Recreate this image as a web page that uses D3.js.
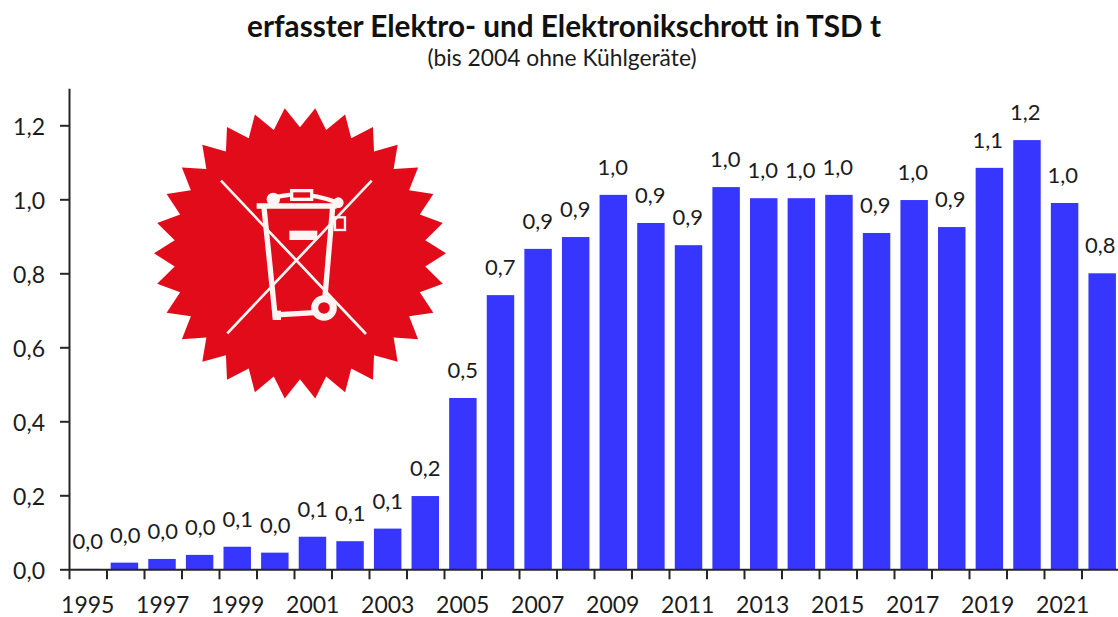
<!doctype html>
<html>
  <head>
    <meta charset="utf-8">
    <script src="https://cdnjs.cloudflare.com/ajax/libs/d3/7.8.5/d3.min.js"></script>
    <style>
      html, body { margin: 0; background: #fff; }
      svg { display: block; }
      text { font-family: Lato, "Open Sans", sans-serif; fill: #1c1c1c; }
      .axis path, .axis line { stroke: #262626; stroke-width: 2px; }
      .axis text { font-size: 23px; }
      .label { font-size: 22px; text-anchor: middle; dominant-baseline: central; }
    </style>
  </head>
  <body>
    <svg id="chart" width="1118" height="617"></svg>
    <script>
      var titleText = "erfasster Elektro- und Elektronikschrott in TSD t";
      var subtitleText = "(bis 2004 ohne Kühlgeräte)";

      var years = [1995, 1996, 1997, 1998, 1999, 2000, 2001, 2002, 2003, 2004, 2005, 2006, 2007, 2008,
                   2009, 2010, 2011, 2012, 2013, 2014, 2015, 2016, 2017, 2018, 2019, 2020, 2021, 2022];
      var values = [0.001, 0.018, 0.028, 0.039, 0.061, 0.045, 0.088, 0.076, 0.11, 0.198, 0.463, 0.741, 0.866, 0.898,
                    1.012, 0.936, 0.876, 1.033, 1.003, 1.003, 1.012, 0.909, 0.998, 0.925, 1.085, 1.16, 0.99, 0.80];
      var yTicks = [0, 0.2, 0.4, 0.6, 0.8, 1.0, 1.2];
      var xLabelYears = years.filter(d => d % 2 == 1);

      var svg = d3.select("#chart");
      var comma = d3.formatLocale({ decimal: ",", thousands: ".", grouping: [3], currency: ["", "€"] }).format(".1f");

      var yScale = d3.scaleLinear().domain([0, 1.3]).range([569.3, 88.3]);
      // ticks sit between the years, so the axis and the bars use slightly different bands like the original
      var xTicks = d3.scaleLinear().domain([1995, 2023]).range([69, 1119]);
      var xBand = d3.scaleBand().domain(years).range([69, 1119]);
      var xBars = d3.scaleBand().domain(years).range([68, 1121]).paddingInner(0.27).paddingOuter(0.135);

      svg.append("text").attr("x", 564).attr("y", 37).attr("text-anchor", "middle")
        .style("font-size", "29.7px").style("font-weight", 700).style("fill", "#111").text(titleText);
      svg.append("text").attr("x", 562).attr("y", 66).attr("text-anchor", "middle")
        .style("font-size", "22.8px").text(subtitleText);

      svg.selectAll("rect.bar")
        .data(years)
        .enter()
        .append("rect")
          .attr("class", "bar")
          .attr("x", d => xBars(d))
          .attr("width", xBars.bandwidth())
          .attr("y", (d, i) => yScale(values[i]))
          .attr("height", (d, i) => yScale(0) - yScale(values[i]))
          .style("fill", "#3636ff");

      svg.selectAll("text.label")
        .data(years)
        .enter()
        .append("text")
          .attr("class", "label")
          .attr("x", d => xBand(d) + xBand.bandwidth() / 2)
          .attr("y", (d, i) => yScale(values[i]) - 28.5)
          .text((d, i) => comma(values[i]));

      var yAxis = d3.axisLeft(yScale).tickValues(yTicks).tickFormat(comma).tickSize(9).tickPadding(15).tickSizeOuter(0);
      var yG = svg.append("g").attr("class", "axis").attr("transform", "translate(69,0)").call(yAxis);
      yG.selectAll("text").attr("dy", "0.42em");

      var xTickAxis = d3.axisBottom(xTicks).tickValues(d3.range(1995, 2023)).tickFormat("").tickSize(10).tickSizeOuter(0);
      svg.append("g").attr("class", "axis").attr("transform", "translate(0,569.3)").call(xTickAxis);

      var xLabelAxis = d3.axisBottom(xBand).tickValues(xLabelYears).tickSize(0).tickPadding(27);
      var xLabels = svg.append("g").attr("class", "axis").attr("transform", "translate(0,569.3)").call(xLabelAxis);
      xLabels.select(".domain").remove();

      // recycling logo, coordinates taken from a crop at 3x
      var logo = svg.append("g").attr("transform", "translate(140,120) scale(0.3333)");
      var star = d3.range(60).map(i => [i * Math.PI / 30 + Math.PI / 2, i % 2 == 0 ? 438 : 378]);
      logo.append("path")
        .attr("transform", "translate(480,400)")
        .attr("d", d3.lineRadial().curve(d3.curveLinearClosed)(star))
        .style("fill", "#e10b1a");

      var icon = logo.append("g").style("fill", "none").style("stroke", "#fbf6f4");
      icon.append("path").attr("d", "M243,182L678,642M695,182L262,640").style("stroke-width", 8);
      icon.append("path").attr("d", "M372,262L405,585L525,578M578,262L555,530").style("stroke-width", 16);
      icon.append("path").attr("d", "M350,258L590,258").style("stroke-width", 17);
      icon.append("path").attr("d", "M385,238Q480,205 595,248").style("stroke-width", 13);
      icon.append("rect").attr("x", 455).attr("y", 212).attr("width", 60).attr("height", 26).style("fill", "#e10b1a").style("stroke-width", 10);
      icon.append("rect").attr("x", 585).attr("y", 292).attr("width", 30).attr("height", 38).style("stroke-width", 7);
      icon.append("circle").attr("cx", 400).attr("cy", 238).attr("r", 20).style("fill", "#fbf6f4").style("stroke", "none");
      icon.append("circle").attr("cx", 595).attr("cy", 248).attr("r", 16).style("fill", "#fbf6f4").style("stroke", "none");
      icon.append("rect").attr("x", 448).attr("y", 332).attr("width", 84).attr("height", 28).style("fill", "#fbf6f4").style("stroke", "none");
      icon.append("rect").attr("x", 398).attr("y", 572).attr("width", 25).attr("height", 28).style("fill", "#fbf6f4").style("stroke", "none");
      icon.append("circle").attr("cx", 552).attr("cy", 564).attr("r", 28).style("fill", "#e10b1a").style("stroke-width", 21);
    </script>
  </body>
</html>
